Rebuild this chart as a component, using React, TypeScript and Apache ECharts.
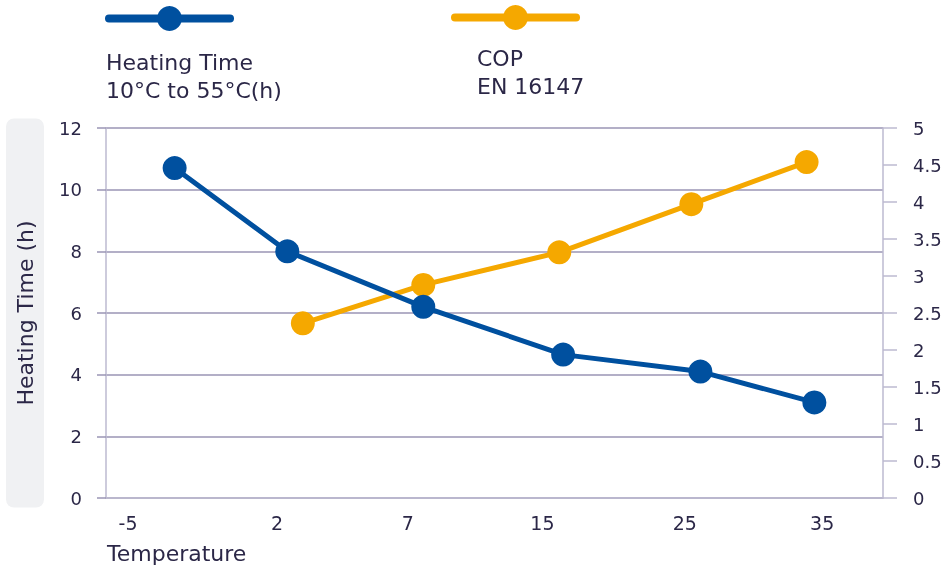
import React, { useEffect, useRef } from "react";
import * as echarts from "echarts";

// Temperature tick labels and their slot positions on the x axis (slot units)
const tempLabels = ["-5", "2", "7", "15", "25", "35"];
const tempLabelPos = [-0.33, 0.82, 1.83, 2.87, 3.97, 5.03];

// Heating time 10°C → 55°C (h)
const heatingX = [0.03, 0.9, 1.95, 3.03, 4.09, 4.97];
const heatingTime = [10.7, 8.0, 6.2, 4.65, 4.1, 3.1];

// COP EN 16147
const copX = [1.02, 1.95, 3.0, 4.02, 4.91];
const copValues = [2.36, 2.88, 3.32, 3.97, 4.54];

const leftTicks = { min: 0, max: 12, interval: 2 };
const rightTicks = { min: 0, max: 5, interval: 0.5 };

const BLUE = "#00509f";
const ORANGE = "#f5a800";
const TEXT = "#2b2747";
const GRID = "#9a95b5";
const AXIS = "#bdbad0";
const FONT = "DejaVu Sans";

const heatingName = "Heating Time 10°C to 55°C(h)";
const copName = "COP EN 16147";

export default function App() {
  const ref = useRef<HTMLDivElement>(null);
  useEffect(() => {
    if (!ref.current) return;
    const chart = echarts.init(ref.current, undefined, { renderer: "svg" });
    const labelFor = (v: number) => {
      let best = 0;
      for (let i = 1; i < tempLabelPos.length; i++) {
        if (Math.abs(tempLabelPos[i] - v) < Math.abs(tempLabelPos[best] - v)) best = i;
      }
      return tempLabels[best];
    };
    chart.setOption({
      animation: false,
      textStyle: { fontFamily: FONT, color: TEXT },
      grid: {
        left: 106,
        right: 64,
        top: 128,
        bottom: 72,
        containLabel: false,
        outerBoundsMode: "none",
      },
      legend: [
        {
          data: [heatingName],
          left: 105,
          top: 3,
          padding: 0,
          itemWidth: 121,
          itemHeight: 31,
          formatter: () => "",
          lineStyle: { width: 8, cap: "round" },
        },
        {
          data: [copName],
          left: 451,
          top: 2,
          padding: 0,
          itemWidth: 121,
          itemHeight: 31,
          formatter: () => "",
          lineStyle: { width: 8, cap: "round" },
        },
      ],
      graphic: [
        {
          type: "text",
          left: 106,
          top: 48,
          style: {
            text: "Heating Time\n10°C to 55°C(h)",
            fontFamily: FONT,
            fontSize: 22,
            lineHeight: 28,
            fill: TEXT,
          },
        },
        {
          type: "text",
          left: 477,
          top: 44,
          style: {
            text: "COP\nEN 16147",
            fontFamily: FONT,
            fontSize: 22,
            lineHeight: 28,
            fill: TEXT,
          },
        },
      ],
      xAxis: {
        type: "value",
        min: -0.5,
        max: 5.5,
        name: "Temperature",
        nameLocation: "start",
        nameGap: -1,
        nameTextStyle: {
          fontFamily: FONT,
          fontSize: 22,
          color: TEXT,
          align: "left",
          verticalAlign: "top",
          padding: [44, 0, 0, 0],
        },
        axisLine: { show: true, onZero: false, lineStyle: { color: AXIS, width: 1.5 } },
        axisTick: { show: false },
        splitLine: { show: false },
        axisLabel: {
          customValues: tempLabelPos,
          formatter: (v: number) => labelFor(v),
          fontFamily: FONT,
          fontSize: 19,
          color: TEXT,
          margin: 15,
        },
      },
      yAxis: [
        {
          type: "value",
          ...leftTicks,
          position: "left",
          name: "Heating Time (h)",
          nameLocation: "middle",
          nameRotate: 90,
          nameGap: 62,
          nameTextStyle: {
            fontFamily: FONT,
            fontSize: 22,
            color: TEXT,
            backgroundColor: "#f0f1f3",
            borderRadius: 8,
            padding: [8, 102, 8, 102],
          },
          axisLine: { show: true, onZero: false, lineStyle: { color: AXIS, width: 1.5 } },
          axisTick: { show: true, length: 9, lineStyle: { color: GRID, width: 1.5 } },
          splitLine: { show: true, lineStyle: { color: GRID, width: 1.5 } },
          axisLabel: { fontFamily: FONT, fontSize: 18, color: TEXT, margin: 24 },
        },
        {
          type: "value",
          ...rightTicks,
          position: "right",
          axisLine: { show: true, onZero: false, lineStyle: { color: AXIS, width: 1.5 } },
          axisTick: { show: true, length: 14, lineStyle: { color: AXIS, width: 1.5 } },
          splitLine: { show: false },
          axisLabel: { fontFamily: FONT, fontSize: 18, color: TEXT, margin: 30 },
        },
      ],
      series: [
        {
          name: heatingName,
          type: "line",
          yAxisIndex: 0,
          data: heatingX.map((x, i) => [x, heatingTime[i]]),
          symbol: "circle",
          symbolSize: 24,
          lineStyle: { color: BLUE, width: 5 },
          itemStyle: { color: BLUE },
          z: 3,
        },
        {
          name: copName,
          type: "line",
          yAxisIndex: 1,
          data: copX.map((x, i) => [x, copValues[i]]),
          symbol: "circle",
          symbolSize: 24,
          lineStyle: { color: ORANGE, width: 5 },
          itemStyle: { color: ORANGE },
          z: 2,
        },
      ],
    });
    return () => chart.dispose();
  }, []);
  return (
    <div
      ref={ref}
      style={{ position: "fixed", left: 0, top: 0, width: 947, height: 570 }}
    />
  );
}
